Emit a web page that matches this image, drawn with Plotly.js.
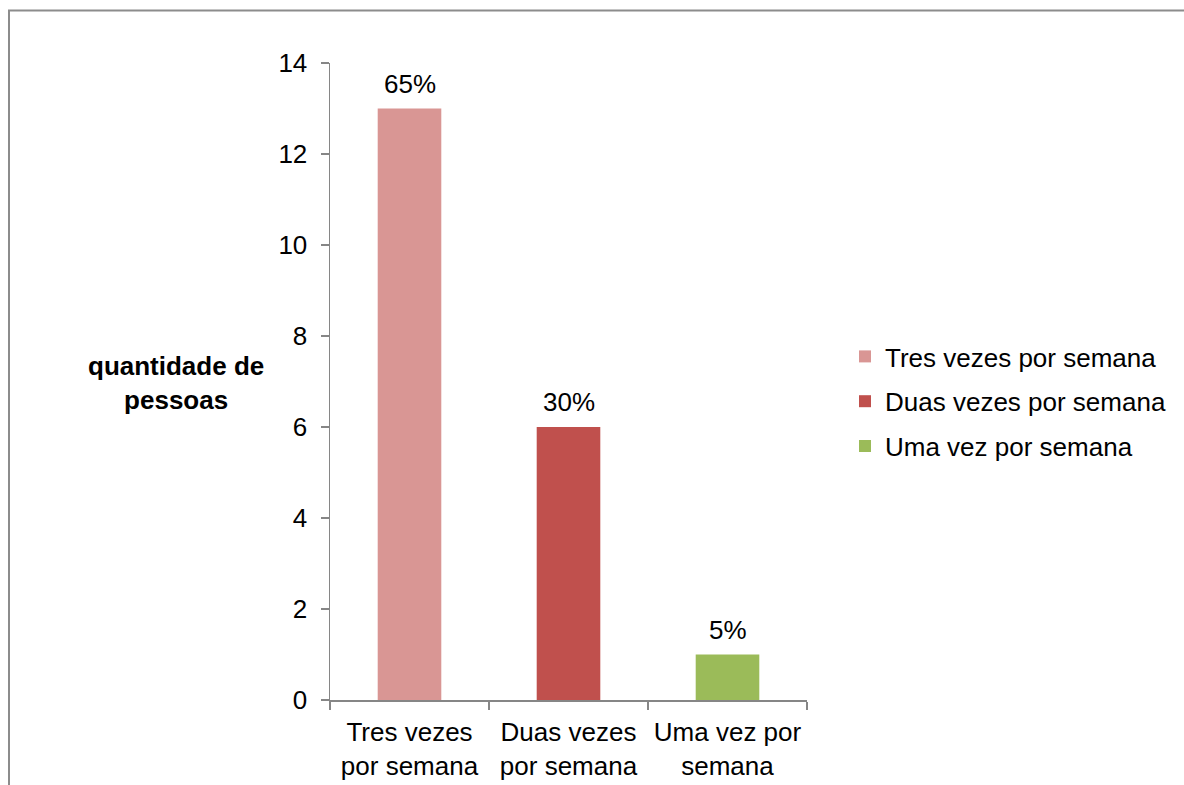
<!DOCTYPE html>
<html>
<head>
<meta charset="utf-8">
<script src="https://cdn.plot.ly/plotly-3.0.1.min.js"></script>
<style>html,body{margin:0;padding:0;background:#fff;}#chart{width:1184px;height:785px;}</style>
</head>
<body>
<div id="chart"></div>
<script>
const categories = ["Tres vezes<br>por semana", "Duas vezes<br>por semana", "Uma vez por<br>semana"];
const seriesNames = ["Tres vezes por semana", "Duas vezes por semana", "Uma vez por semana"];
const values = [13, 6, 1];
const labels = ["65%", "30%", "5%"];
const colors = ["#D99694", "#C0504D", "#9BBB59"];

const font = "Liberation Sans, Arial, sans-serif";
const FS = 26;
const traces = seriesNames.map((name, i) => ({
  type: "bar",
  name: name,
  x: [categories[i]],
  y: [values[i]],
  marker: {color: colors[i]},
  legendgroup: "g" + i,
  hoverinfo: "x+y"
}));

const L = 330, R = 807, T = 63, B = 700, W = 1184, H = 785;
const pw = R - L, ph = B - T;

const labelAnnotations = categories.map((c, i) => ({
  text: labels[i], x: c, y: values[i], xref: "x", yref: "y",
  xanchor: "center", yanchor: "bottom", yshift: 8, showarrow: false,
  font: {family: font, size: FS, color: "#000"}
}));

const layout = {
  width: W, height: H,
  margin: {l: L, r: W - R, t: T, b: H - B, pad: 0},
  paper_bgcolor: "#fff", plot_bgcolor: "#fff",
  font: {family: font, size: FS, color: "#000"},
  barmode: "overlay",
  bargap: 0.6,
  showlegend: true,
  legend: {
    x: (845 - L) / pw, y: (B - 333) / ph, xanchor: "left", yanchor: "top",
    font: {family: font, size: FS, color: "#000"},
    tracegroupgap: 8, itemwidth: 30
  },
  xaxis: {
    type: "category",
    categoryorder: "array", categoryarray: categories,
    showline: true, linecolor: "#868686", linewidth: 1.5,
    ticks: "outside", tickson: "boundaries", ticklen: 8, tickcolor: "#868686", tickwidth: 1.5,
    ticklabelstandoff: 8,
    showgrid: false, zeroline: false,
    tickfont: {family: font, size: FS, color: "#000"}
  },
  yaxis: {
    range: [0, 14], dtick: 2,
    showline: true, linecolor: "#868686", linewidth: 1.5,
    ticks: "outside", ticklen: 8, tickcolor: "#868686", tickwidth: 1.5,
    ticklabelstandoff: 8,
    showgrid: false, zeroline: false,
    tickfont: {family: font, size: FS, color: "#000"}
  },
  annotations: labelAnnotations.concat([{
    text: "<b>quantidade de<br>pessoas</b>",
    xref: "paper", yref: "paper",
    x: (176 - L) / pw, y: (B - 383) / ph,
    xanchor: "center", yanchor: "middle",
    showarrow: false, align: "center",
    font: {family: font, size: FS, color: "#000"}
  }]),
  shapes: [{
    type: "rect", xref: "paper", yref: "paper",
    x0: (9 - L) / pw, x1: (1200 - L) / pw,
    y0: (B - 800) / ph, y1: (B - 10.5) / ph,
    line: {color: "#8C8C8C", width: 2}, fillcolor: "rgba(0,0,0,0)"
  }]
};

Plotly.newPlot("chart", traces, layout, {displayModeBar: false, staticPlot: true});
</script>
</body>
</html>
